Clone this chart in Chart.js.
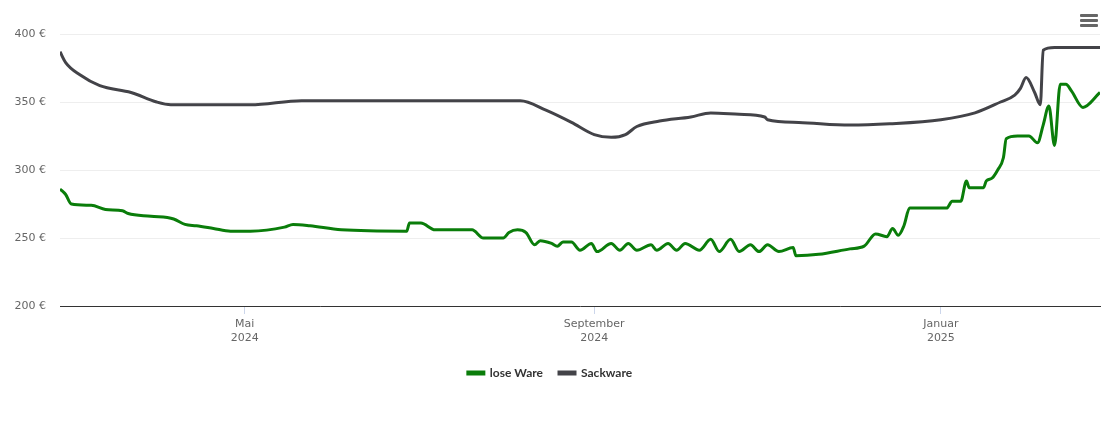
<!DOCTYPE html>
<html>
<head>
<meta charset="utf-8">
<script src="https://cdn.jsdelivr.net/npm/chart.js@4/dist/chart.umd.min.js"></script>
<style>
  body { margin: 0; background: #fff; }
  #wrap { position: relative; width: 1110px; height: 423px; }
  #menu { position: absolute; right: 12px; top: 14px; width: 18px; }
  #menu div { height: 3px; background: #666; margin-bottom: 2px; border-radius: 1px; }
</style>
</head>
<body>
<div id="wrap">
  <canvas id="c" width="1110" height="423"></canvas>
  <div id="menu"><div></div><div></div><div></div></div>
</div>
<script>
// days counted from 1 May 2024
const looseDays = [-65,-63,-61,-54,-49,-43,-41,-33,-25,-21,-17,-11,-5,2,14,17,23,34,57,58,62,67,80,84,91,93,96,99,102,104,108,110,112,115,118,122,124,129,132,135,138,143,145,149,152,155,160,164,167,171,174,178,181,184,188,193,194,202,213,218,222,226,228,230,232,234,247,249,252,254,255,260,261,263,265,267,268,272,276,279,281,283,285,287,289,291,295,301];
const looseValues = [286,282,275,274,271,270,268,266,264,260,259,257,255,255,258,260,259,256,255,261,261,256,256,250,250,254,256,254,245,248,246,244,247,247,241,246,240,246,241,246,241,245,241,246,241,246,241,249,240,249,240,245,240,245,240,243,237,238,242,244,253,251,257,252,259,272,272,277,277,292,287,287,292,294,300,309,323,325,325,320,333,347,318,363,363,358,346,357];
const sackDays = [-65,-63,-58,-51,-40,-31,-26,2,20,55,97,106,115,123,129,134,138,146,157,164,174,183,184,195,213,227,245,257,266,271,273,275,278,280,281,285,301];
const sackValues = [387,379,370,362,357,350,348,348,351,351,351,344,335,326,324,326,332,336,339,342,341,339,337,335,333,334,337,342,350,355,360,368,357,348,388,390,390];
const tickDays = [0, 123, 245];
const tickLabels = [['Mai', '2024'], ['September', '2024'], ['Januar', '2025']];
const yTicks = [200, 250, 300, 350, 400];

const toXY = (xs, ys) => xs.map((x, i) => ({ x: x, y: ys[i] }));

new Chart(document.getElementById('c'), {
  type: 'line',
  data: {
    datasets: [
      {
        label: 'lose Ware',
        data: toXY(looseDays, looseValues),
        borderColor: '#0a7d0a',
        backgroundColor: '#0a7d0a',
        borderWidth: 3,
        pointRadius: 0,
        cubicInterpolationMode: 'monotone'
      },
      {
        label: 'Sackware',
        data: toXY(sackDays, sackValues),
        borderColor: '#434348',
        backgroundColor: '#434348',
        borderWidth: 3,
        pointRadius: 0,
        cubicInterpolationMode: 'monotone'
      }
    ]
  },
  options: {
    responsive: false,
    animation: false,
    layout: { padding: { top: 34, right: 10, bottom: 34 } },
    plugins: {
      tooltip: { enabled: false },
      legend: {
        position: 'bottom',
        labels: {
          boxWidth: 16, boxHeight: 2, padding: 16,
          color: '#333', font: { family: 'Lato', size: 12, weight: 'bold' }
        }
      }
    },
    scales: {
      x: {
        type: 'linear',
        min: -65, max: 301,
        afterBuildTicks: s => { s.ticks = tickDays.map(v => ({ value: v })); },
        afterFit: s => { s.height = 45; },
        ticks: {
          callback: (v, i) => tickLabels[i],
          color: '#666', font: { family: 'DejaVu Sans', size: 11 }, padding: 4, maxRotation: 0
        },
        grid: { drawOnChartArea: false, tickLength: 8, color: '#ccd6eb' },
        border: { color: '#333' }
      },
      y: {
        min: 200, max: 400,
        afterBuildTicks: s => { s.ticks = yTicks.map(v => ({ value: v })); },
        afterFit: s => { s.width = 60; },
        ticks: {
          callback: v => v + ' €',
          color: '#666', font: { family: 'DejaVu Sans', size: 11 }, padding: 14
        },
        grid: { color: '#eeeeee', drawTicks: false },
        border: { display: false }
      }
    }
  }
});
</script>
</body>
</html>
